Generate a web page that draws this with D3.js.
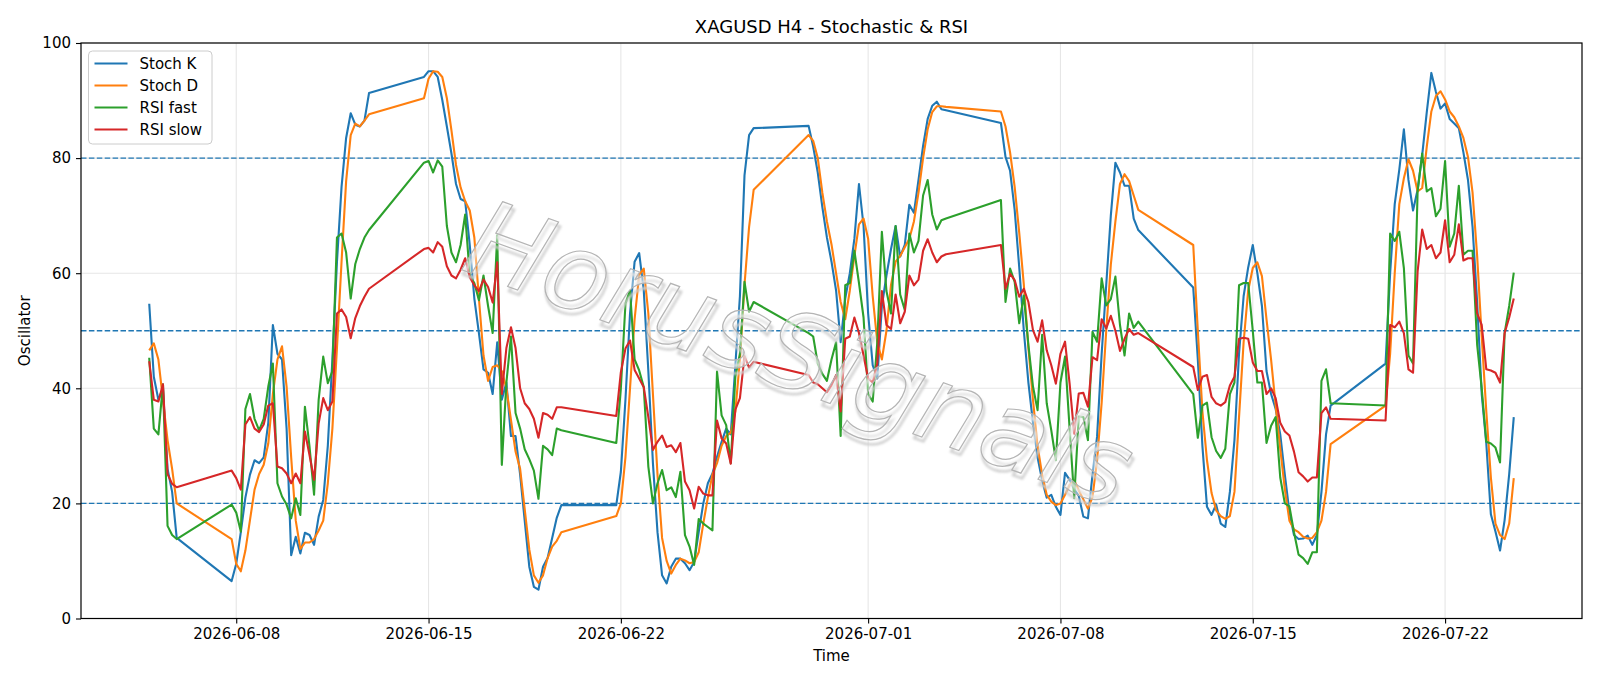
<!DOCTYPE html>
<html>
<head>
<meta charset="utf-8">
<script src="https://cdn.jsdelivr.net/npm/d3@7"></script>
<style>
  body { margin: 0; background: #fff; }
  svg text { font-family: "DejaVu Sans", sans-serif; fill: #000; }
</style>
</head>
<body>
<svg id="chart" width="1600" height="686"></svg>
<script>
// trading sessions (H4 bars, UTC), first and last bar of each
const sessions = [
  ["2026-06-04T20:00Z", "2026-06-05T20:00Z"],
  ["2026-06-07T20:00Z", "2026-06-12T20:00Z"],
  ["2026-06-14T20:00Z", "2026-06-19T20:00Z"],
  ["2026-06-21T20:00Z", "2026-06-26T20:00Z"],
  ["2026-06-28T20:00Z", "2026-07-03T20:00Z"],
  ["2026-07-05T20:00Z", "2026-07-10T20:00Z"],
  ["2026-07-12T20:00Z", "2026-07-17T20:00Z"],
  ["2026-07-19T20:00Z", "2026-07-24T12:00Z"]
];

const stochK = [
  54.7, 42, 38, 40, 26, 22, 14,
  6.5, 9.5, 15, 21, 25, 27.5, 27, 28, 34, 51, 46, 45, 33, 11, 14.2, 11.3, 14.9, 14.5, 12.8, 17.7, 20.6, 30, 45, 62, 75, 83.5, 87.8, 85.8, 85.5, 86.5, 91.3,
  94.1, 95.1, 95.1, 94.1, 90.1, 85.5, 80.8, 75.5, 72.9, 72.5, 64.9, 55.6, 49.6, 43.3, 42.7, 39, 48, 38, 41, 31.7, 31.7, 25, 17, 9, 5.5, 5, 9, 10.5, 14, 17.5, 19.7,
  19.7, 25.5, 38, 53, 62, 63.5, 57, 43, 27, 15, 7.5, 6.1, 9, 10.4, 10.4, 9.6, 8.4, 9.8, 15, 20, 23.5, 25.2, 28.1, 30.7, 33, 32, 44, 56, 77, 84, 85.2,
  85.6, 82, 77.5, 71.5, 66.2, 62, 57, 48, 55.6, 60, 66, 75.5, 68.2, 53, 44, 41.7, 54.3, 59.6, 64.2, 68.2, 62.9, 64.9, 71.9, 70.5, 76.2, 82.1, 86.8, 89.1, 89.8, 88.5, 88.3,
  86.1, 80.2, 77.8, 71, 61, 50, 41, 34, 28, 24, 21, 21.5, 19.4, 18, 25.3, 24.1, 22.5, 21.3, 17.7, 17.4, 25, 31.6, 46, 58, 70, 79.2, 77.5, 75.2, 75.2, 69.5, 67.5,
  57.5, 45, 30, 19.4, 18, 19.8, 16.5, 15.9, 22, 31, 46, 56, 61, 64.9, 60, 54.3, 43, 39, 36.4, 32, 25, 18.5, 14.5, 13.8, 13.9, 14.4, 12.8, 14.5, 22, 32, 37,
  44.3, 60, 72, 78, 85, 76.2, 70.9, 74.5, 80.5, 88, 94.8, 91.5, 88.6, 89.5, 86.8, 86, 85.2, 81, 76.2, 68, 55, 39, 30.4, 18.1, 15.1, 11.8, 17.1, 25.1, 35
];

const stochD = [
  46.6, 47.8, 45, 38, 31, 26, 20,
  13.8, 9.5, 8.2, 11.8, 17.1, 22.4, 25.1, 26.7, 30.4, 39, 45, 47.3, 40.3, 28, 17, 12.1, 13.2, 13.2, 13.8, 15.3, 17, 23.5, 33, 47, 62, 76, 84, 86, 85.5, 86.5, 87.6,
  90.4, 93.8, 95.1, 95, 94.1, 90.4, 84.8, 78.8, 74.9, 72.5, 70.9, 66.2, 55.6, 45.7, 41.3, 43.7, 44, 43, 40, 34.5, 29, 26, 19, 12, 7.5, 6.2, 7.5, 10.5, 12.5, 13.5, 15,
  17.8, 20, 28, 40, 52, 59.7, 60.8, 53, 39, 25, 14, 10, 7.8, 9.3, 10.4, 10.1, 9.6, 9.8, 11.5, 16.5, 21, 25, 27, 30, 31.7, 32.3, 36, 45, 58, 68, 74.5,
  84, 83, 80, 74, 69, 65, 60, 55, 52, 57, 63, 68.5, 69.5, 66, 56, 48, 45, 50, 58, 62, 63, 64.5, 66, 69, 74, 80, 85, 88, 89, 89, 88.9,
  88.1, 85.5, 81, 75, 67, 58, 47, 38, 30, 25, 21.5, 20.3, 19.7, 20, 21.5, 23.2, 24, 22.3, 20.7, 19.1, 21.1, 27.5, 37.5, 50, 61.5, 69, 75.5, 77.2, 76, 73.5, 71,
  64.9, 50, 36, 27.5, 21.8, 18.8, 17.8, 17.3, 17.8, 22, 35, 48, 57, 60.9, 61.9, 59.5, 52, 45, 37, 29.5, 22.5, 17, 15.5, 15, 14.2, 13.9, 14, 15, 17, 22, 30.3,
  37, 46, 60, 72, 76.5, 79.8, 77.8, 74.2, 74.8, 82, 88.1, 90.8, 91.6, 90.2, 88.1, 87.1, 85.5, 83.5, 80.2, 74, 63, 49, 36, 24.5, 16.5, 14.5, 13.8, 16.5, 24.4
];

const rsiFast = [
  45.3, 33, 32, 40.7, 16.1, 14.5, 13.8,
  19.8, 18.4, 15.1, 36.4, 39, 34.7, 32.7, 34.7, 40.3, 44.3, 23.5, 21.2, 19.8, 17.4, 20.9, 18, 36.8, 29.9, 21.5, 38, 45.5, 40.9, 43, 66.2, 66.9, 63.6, 55.6, 61.6, 64.2, 66.2, 67.5,
  79.2, 79.5, 77.5, 79.6, 78.5, 68.2, 63.6, 61.9, 64.9, 70.2, 59.6, 58.3, 55.3, 59.6, 54.3, 49.6, 66.6, 26.7, 41, 49, 35.7, 33, 29.4, 27.7, 25.7, 20.8, 30, 29.4, 28.4, 33, 32.7,
  30.5, 40, 54.7, 57, 45, 43.1, 40.2, 26.4, 20, 23.5, 25.8, 22.3, 22.8, 21.1, 25.5, 14.5, 12.5, 9.3, 17.3, 16.5, 15.9, 15.3, 42.9, 35.3, 33.6, 27, 42, 46, 58.5, 53.3, 55,
  49.6, 49, 44.3, 42.5, 41.3, 45, 48, 31.7, 57.9, 58.3, 63.9, 58.3, 52.3, 39, 37.7, 48, 67.2, 56.9, 53, 68.2, 56.3, 53.6, 66.9, 63.6, 65.6, 73.5, 76.2, 70.2, 67.6, 69.2, 69.5,
  72.7, 55, 60.8, 58.5, 51.3, 56.1, 47.5, 40.3, 36.2, 49.3, 37.4, 32.7, 27.5, 41, 45.5, 33, 20.9, 35.1, 35, 31, 49.8, 48.1, 59.1, 54.4, 55.5, 59.4, 51, 45.7, 53, 50.5, 51.6,
  39, 31.4, 37, 37.5, 31.5, 29.1, 27.9, 29.5, 39, 41, 57.9, 58.3, 58.3, 50, 41, 41, 30.5, 33.5, 35, 24.5, 20, 19.5, 15, 11.1, 10.5, 9.5, 11.5, 11.5, 41.3, 43.3, 37.4,
  37, 66.9, 65.6, 67.2, 60.9, 45.7, 44.3, 74.2, 80.8, 74.2, 74.8, 69.9, 71.2, 79.5, 64.6, 66.9, 75.2, 63.2, 63.9, 63.9, 47.6, 40, 30.7, 30.4, 29.7, 27.1, 49.6, 54.3, 60.1
];

const rsiSlow = [
  44.7, 38, 37.7, 40.7, 25.1, 23.4, 22.8,
  25.7, 24.4, 22.4, 33.7, 35, 33, 32.4, 33.7, 37, 37.4, 26.4, 26.1, 25.2, 23.5, 25.2, 23.5, 32.5, 28.4, 24.1, 33.9, 38.3, 36.2, 37.7, 53, 53.7, 52.4, 48.7, 52.2, 54.3, 55.9, 57.3,
  64.2, 64.4, 63.6, 65.4, 64.6, 61.2, 59.6, 59.1, 60.6, 62.6, 59.3, 57.9, 56.9, 58.9, 57.6, 54.9, 61.9, 39, 47, 50.6, 47, 40, 37.4, 36.4, 34.7, 31.4, 35.7, 35.4, 34.7, 36.7, 36.7,
  35.2, 42.8, 46.9, 48.3, 43.2, 41.7, 40.2, 35, 29.3, 30.7, 31.8, 29.8, 30.1, 28.9, 30.5, 23.8, 22.3, 19.1, 22.9, 21.7, 21.4, 21.4, 34.4, 31.3, 30.4, 26.9, 36.3, 38.3, 45.6, 43.6, 44.6,
  42.3, 41, 40.7, 40, 39.3, 40.5, 42.3, 36, 48.6, 49, 52.3, 49.6, 45.7, 41.7, 41, 44.3, 56.9, 51, 50.3, 56.3, 51.3, 53.3, 59.6, 57.9, 58.9, 63.9, 65.9, 63.6, 61.9, 62.9, 63.3,
  64.9, 57.3, 59.9, 58.8, 55.9, 57.3, 55, 50.1, 48.1, 51.8, 46.6, 44, 40.8, 46, 48.1, 40.8, 32.1, 39.1, 39.2, 36.8, 45.4, 44.9, 52, 50.4, 52.6, 50, 46.5, 48.6, 50.3, 49.3, 49.6,
  43.7, 39.7, 42, 42.3, 38.5, 37.4, 37, 37.6, 40.5, 42, 48.6, 48.8, 48.6, 44.5, 43, 43, 39, 40, 38.3, 34, 32.5, 31.8, 29, 25.4, 24.7, 23.8, 24.5, 24.5, 35.7, 36.7, 34.7,
  34.4, 51, 50.6, 51.6, 49.6, 43.3, 42.7, 60.3, 67.6, 64.2, 64.9, 62.6, 63.6, 69.2, 61.9, 63.2, 68.5, 62.2, 62.6, 62.6, 53, 51, 43.3, 43.1, 42.7, 41, 49.6, 52.3, 55.6
];

const seriesNames = ["Stoch K", "Stoch D", "RSI fast", "RSI slow"];
const seriesColors = ["#1f77b4", "#ff7f0e", "#2ca02c", "#d62728"];
const levels = [80, 50, 20];
const yTicks = [0, 20, 40, 60, 80, 100];
const xTickDates = ["2026-06-08", "2026-06-15", "2026-06-22", "2026-07-01", "2026-07-08", "2026-07-15", "2026-07-22"];

const WIDTH = 1600;
const HEIGHT = 686;
const margin = {left: 81, right: 18, top: 43, bottom: 67.5};
const innerW = WIDTH - margin.left - margin.right;
const innerH = HEIGHT - margin.top - margin.bottom;

// expand sessions into bar times
const times = [];
sessions.forEach(function (s) {
  let t = new Date(s[0]).getTime();
  const end = new Date(s[1]).getTime();
  while (t <= end) {
    times.push(new Date(t));
    t += 4 * 3600 * 1000;
  }
});

const allSeries = [stochK, stochD, rsiFast, rsiSlow];

const t0 = times[0].getTime(), t1 = times[times.length - 1].getTime();
const pad = (t1 - t0) * 0.05;
const x = d3.scaleUtc().domain([new Date(t0 - pad), new Date(t1 + pad)]).range([0, innerW]);
const y = d3.scaleLinear().domain([0, 100]).range([innerH, 0]);

const svg = d3.select('#chart');

const defs = svg.append('defs');
defs.append('filter').attr('id', 'soft')
  .append('feGaussianBlur').attr('stdDeviation', 1.3);

const g = svg.append('g').attr('transform', 'translate(' + margin.left + ',' + margin.top + ')');

// grid
const parseDay = d3.utcParse('%Y-%m-%d');
const xTicks = xTickDates.map(parseDay);
g.append('g').selectAll('line').data(xTicks).enter().append('line')
  .attr('x1', d => x(d)).attr('x2', d => x(d))
  .attr('y1', 0).attr('y2', innerH)
  .attr('stroke', '#e6e6e6').attr('stroke-width', 1.1);
g.append('g').selectAll('line').data(yTicks).enter().append('line')
  .attr('x1', 0).attr('x2', innerW)
  .attr('y1', d => y(d)).attr('y2', d => y(d))
  .attr('stroke', '#e6e6e6').attr('stroke-width', 1.1);

// level lines
g.append('g').selectAll('line').data(levels).enter().append('line')
  .attr('x1', 0).attr('x2', innerW)
  .attr('y1', d => y(d)).attr('y2', d => y(d))
  .attr('stroke', '#1f77b4').attr('stroke-width', 1.4)
  .attr('stroke-dasharray', '5.5,2.4');

// series
const line = d3.line()
  .x((d, i) => x(times[i]))
  .y(d => y(d));

allSeries.forEach(function (vals, k) {
  g.append('path')
    .attr('d', line(vals))
    .attr('fill', 'none')
    .attr('stroke', seriesColors[k])
    .attr('stroke-width', 2.1)
    .attr('stroke-linejoin', 'round');
});

// watermark
const wm = g.append('g')
  .attr('transform', 'translate(' + (787 - margin.left) + ',' + (388 - margin.top) + ') rotate(20)');
wm.append('text')
  .attr('x', 3).attr('y', 4)
  .attr('text-anchor', 'middle')
  .attr('filter', 'url(#soft)')
  .style('font-size', '107px').style('font-style', 'italic')
  .style('fill', 'none').style('stroke', '#d0d0d0').style('stroke-width', 2.5)
  .text('HorusSignals');
wm.append('text')
  .attr('text-anchor', 'middle')
  .style('font-size', '107px').style('font-style', 'italic')
  .style('fill', '#ffffff').style('fill-opacity', 0.4)
  .style('stroke', '#b4b4b4').style('stroke-width', 1.2)
  .text('HorusSignals');

// axes
const xAxis = d3.axisBottom(x).tickValues(xTicks).tickFormat(d3.utcFormat('%Y-%m-%d')).tickSizeOuter(0).tickSize(5).tickPadding(5);
const yAxis = d3.axisLeft(y).tickValues(yTicks).tickSizeOuter(0).tickSize(5).tickPadding(5);

const xAxisG = g.append('g').attr('transform', 'translate(0,' + innerH + ')').call(xAxis);
const yAxisG = g.append('g').call(yAxis);
[xAxisG, yAxisG].forEach(function (a) {
  a.select('.domain').remove();
  a.selectAll('.tick line').attr('stroke', '#000').attr('stroke-width', 1.1);
  a.selectAll('.tick text').style('font-size', '15px').style('font-family', '"DejaVu Sans", sans-serif').attr('fill', '#000');
});

// frame
g.append('rect')
  .attr('x', 0).attr('y', 0).attr('width', innerW).attr('height', innerH)
  .attr('fill', 'none').attr('stroke', '#000').attr('stroke-width', 1.2);

// labels
svg.append('text')
  .attr('x', margin.left + innerW / 2).attr('y', 33)
  .attr('text-anchor', 'middle').style('font-size', '18px')
  .text('XAGUSD H4 - Stochastic & RSI');
svg.append('text')
  .attr('x', margin.left + innerW / 2).attr('y', 661)
  .attr('text-anchor', 'middle').style('font-size', '15px')
  .text('Time');
svg.append('text')
  .attr('transform', 'translate(30,' + (margin.top + innerH / 2) + ') rotate(-90)')
  .attr('text-anchor', 'middle').style('font-size', '15px')
  .text('Oscillator');

// legend
const lg = svg.append('g').attr('transform', 'translate(88.5,51)');
lg.append('rect')
  .attr('width', 123.5).attr('height', 93).attr('rx', 4)
  .attr('fill', '#fff').attr('fill-opacity', 0.8)
  .attr('stroke', '#cccccc').attr('stroke-width', 1);
seriesNames.forEach(function (name, i) {
  const row = lg.append('g').attr('transform', 'translate(0,' + (12.5 + i * 22) + ')');
  row.append('line').attr('x1', 6).attr('x2', 39).attr('y1', 0).attr('y2', 0)
    .attr('stroke', seriesColors[i]).attr('stroke-width', 2.1);
  row.append('text').attr('x', 51).attr('y', 5.5).style('font-size', '15px').text(name);
});
</script>
</body>
</html>
